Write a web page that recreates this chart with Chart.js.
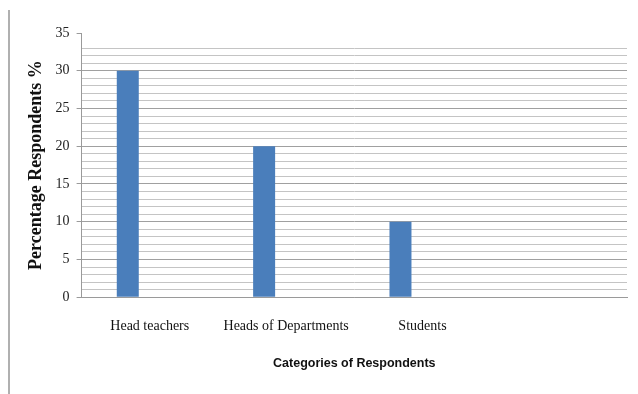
<!DOCTYPE html>
<html>
<head>
<meta charset="utf-8">
<script src="https://cdn.jsdelivr.net/npm/chart.js@4"></script>
<style>
  html, body { margin: 0; padding: 0; background: #fff; }
  #wrap { position: relative; width: 638px; height: 394px; }
  #frame { position: absolute; left: 8px; top: 10px; width: 0; height: 384px; border-left: 2px solid #b0b0b0; }
  canvas { position: absolute; left: 0; top: 0; }
</style>
</head>
<body>
<div id="wrap">
  <div id="frame"></div>
  <canvas id="chart" width="638" height="394"></canvas>
</div>
<script>
// categories and values
const categories = ["Head teachers", "Heads of Departments", "Students", ""];
const series1 = [30, 20, 10, null];
const series2 = [null, null, null, null];
const series3 = [null, null, null, null];
const yTicks = [0, 5, 10, 15, 20, 25, 30, 35];

const barBlue = "#4a7ebb";

const ctx = document.getElementById('chart').getContext('2d');
new Chart(ctx, {
  type: 'bar',
  data: {
    labels: categories,
    datasets: [
      { label: 'Series1', data: series1, backgroundColor: barBlue },
      { label: 'Series2', data: series2, backgroundColor: barBlue },
      { label: 'Series3', data: series3, backgroundColor: barBlue }
    ]
  },
  options: {
    responsive: false,
    animation: false,
    layout: { padding: { left: 20, right: 11, top: 33, bottom: 23 } },
    plugins: { legend: { display: false }, tooltip: { enabled: false } },
    datasets: { bar: { barPercentage: 1, categoryPercentage: 0.484 } },
    scales: {
      x: {
        grid: { display: false },
        border: { display: true, color: '#9a9a9a', width: 1 },
        ticks: {
          color: '#111',
          font: { family: 'Liberation Serif', size: 14 },
          padding: 13
        },
        title: {
          display: true,
          text: 'Categories of Respondents',
          color: '#111',
          font: { family: 'Liberation Sans', size: 12.5, weight: 'bold' },
          padding: { top: 8, bottom: 0 }
        }
      },
      y: {
        min: 0,
        max: 35,
        ticks: {
          stepSize: 1,
          autoSkip: false,
          color: '#222',
          font: { family: 'Liberation Serif', size: 14 },
          padding: 7,
          callback: v => yTicks.includes(v) ? v : ''
        },
        grid: {
          drawTicks: true,
          tickLength: 5,
          color: c => c.tick.value >= 34 ? 'rgba(0,0,0,0)' : (c.tick.value % 5 === 0 ? '#a0a0a0' : '#c4c4c4'),
          tickColor: c => yTicks.includes(c.tick.value) ? '#9a9a9a' : 'rgba(0,0,0,0)'
        },
        border: { display: true, color: '#9a9a9a', width: 1 },
        title: {
          display: true,
          text: 'Percentage Respondents %',
          color: '#111',
          font: { family: 'Liberation Serif', size: 18, weight: 'bold' },
          padding: { top: 6, bottom: 1 }
        }
      }
    }
  }
});
</script>
</body>
</html>
